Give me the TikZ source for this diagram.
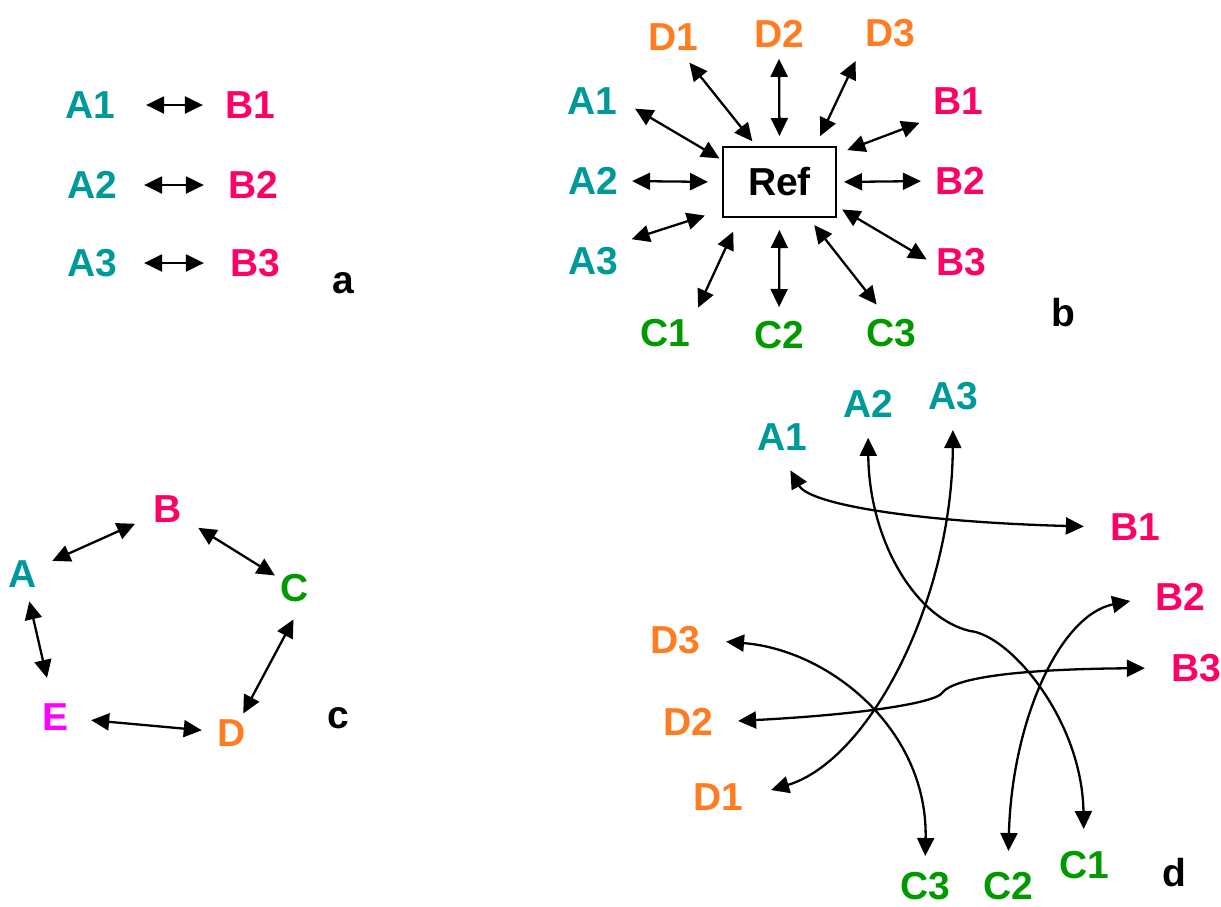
\documentclass[tikz,border=0pt]{standalone}
\usepackage{fontspec}
\setmainfont{Liberation Sans}
\usetikzlibrary{arrows.meta}

\definecolor{cA}{RGB}{0,153,153}
\definecolor{cB}{RGB}{255,0,102}
\definecolor{cC}{RGB}{0,153,0}
\definecolor{cD}{RGB}{255,124,32}
\definecolor{cE}{RGB}{255,0,255}

\tikzset{
  lbl/.style={font=\bfseries\fontsize{39}{44}\selectfont,inner sep=5pt},
  fl/.style={<->,>={Triangle[length=18pt,width=17pt]},line width=2.3pt},
  sh/.style 2 args={shorten <=#1pt,shorten >=#2pt}
}

\begin{document}
\begin{tikzpicture}[x=1pt,y=-1pt]
  \useasboundingbox (0,0) rectangle (1221,906);

  % figure a
  \node[lbl,cA] (A1a) at (90,105) {A1};
  \node[lbl,cA] (A2a) at (92,185) {A2};
  \node[lbl,cA] (A3a) at (92,263) {A3};
  \node[lbl,cB] (B1a) at (250,105) {B1};
  \node[lbl,cB] (B2a) at (253,185) {B2};
  \node[lbl,cB] (B3a) at (255,263) {B3};
  \node[lbl] (la) at (343,283) {a};
  \draw[fl,sh={26}{17}] (A1a) -- (B1a);
  \draw[fl,sh={22}{19}] (A2a) -- (B2a);
  \draw[fl,sh={22}{21}] (A3a) -- (B3a);

  % figure b
  \node[lbl,draw,line width=2pt,minimum width=113pt,minimum height=70pt,inner sep=0pt] (ref) at (779.5,182) {Ref};
  \node[lbl,cA] (A1b) at (592,101) {A1};
  \node[lbl,cA] (A2b) at (593,181) {A2};
  \node[lbl,cA] (A3b) at (593,261) {A3};
  \node[lbl,cB] (B1b) at (958,101) {B1};
  \node[lbl,cB] (B2b) at (960,181) {B2};
  \node[lbl,cB] (B3b) at (961,262) {B3};
  \node[lbl,cC] (C1b) at (665,333) {C1};
  \node[lbl,cC] (C2b) at (779,335) {C2};
  \node[lbl,cC] (C3b) at (891,333) {C3};
  \node[lbl,cD] (D1b) at (673,37) {D1};
  \node[lbl,cD] (D2b) at (779,34) {D2};
  \node[lbl,cD] (D3b) at (890,33) {D3};
  \node[lbl] (lb) at (1063,313) {b};
  \draw[fl,sh={15}{3}] (A1b.east) -- (ref.159);
  \draw[fl,sh={9}{14}] (A2b.east) -- (ref.west);
  \draw[fl,sh={9}{18}] (A3b.north east) -- (ref.206);
  \draw[fl,sh={9}{11}] (B1b.south west) -- (ref.26);
  \draw[fl,sh={9}{7}] (B2b.west) -- (ref.east);
  \draw[fl,sh={5}{6}] (B3b.west) -- (ref.337);
  \draw[fl,sh={7}{15}] (C1b.north east) -- (ref.222);
  \draw[fl,sh={9}{12}] (C2b.north) -- (ref.south);
  \draw[fl,sh={12}{9}] (C3b.110) -- (ref.309);
  \draw[fl,sh={9}{6}] (D1b.-60) -- (ref.123);
  \draw[fl,sh={6}{10}] (D2b.south) -- (ref.north);
  \draw[fl,sh={10}{11}] (D3b.south west) -- (ref.45);

  % figure c
  \node[lbl,cA] (Ac) at (23,574) {A};
  \node[lbl,cB] (Bc) at (168,509) {B};
  \node[lbl,cC] (Cc) at (295,588) {C};
  \node[lbl,cD] (Dc) at (232,733) {D};
  \node[lbl,cE] (Ec) at (56,717) {E};
  \node[lbl] (lc) at (338,718) {c};
  \draw[fl,sh={11}{15}] (Ac) -- (Bc);
  \draw[fl,sh={13}{1}] (Bc) -- (Cc);
  \draw[fl,sh={14}{1}] (Cc.-75) -- (Dc.60);
  \draw[fl,sh={11}{17}] (Dc) -- (Ec);
  \draw[fl,sh={21}{9}] (Ec) -- (Ac);

  % figure d
  \node[lbl,cA] (A1d) at (782,437) {A1};
  \node[lbl,cA] (A2d) at (868,404) {A2};
  \node[lbl,cA] (A3d) at (953,396) {A3};
  \node[lbl,cB] (B1d) at (1135,527) {B1};
  \node[lbl,cB] (B2d) at (1180,597) {B2};
  \node[lbl,cB] (B3d) at (1196,668) {B3};
  \node[lbl,cC] (C1d) at (1084,865) {C1};
  \node[lbl,cC] (C2d) at (1008,886) {C2};
  \node[lbl,cC] (C3d) at (925,886) {C3};
  \node[lbl,cD] (D1d) at (718,797) {D1};
  \node[lbl,cD] (D2d) at (688,722) {D2};
  \node[lbl,cD] (D3d) at (675,640) {D3};
  \node[lbl] (ld) at (1174,873) {d};
  \coordinate (k1) at (970,631);
  \coordinate (k2) at (942,693);
  \draw[fl,sh={17}{21}] (A1d.south) .. controls (810,505) and (920,522) .. (B1d.west);
  \draw[fl,sh={15}{17}] (A2d.south) .. controls (869,540) and (915,618) .. (k1)
        .. controls (1010,635) and (1082,720) .. (C1d.north);
  \draw[fl,sh={15}{24}] (A3d.south) .. controls (952,600) and (870,760) .. (D1d.east);
  \draw[fl,sh={20}{16}] (B2d.west) .. controls (1060,615) and (1012,720) .. (C2d.north);
  \draw[fl,sh={21}{20}] (B3d.west) .. controls (1030,669) and (955,676) .. (k2)
        .. controls (936,702) and (870,714) .. (D2d.east);
  \draw[fl,sh={21}{11}] (D3d.east) .. controls (830,650) and (928,730) .. (C3d.north);
\end{tikzpicture}
\end{document}
